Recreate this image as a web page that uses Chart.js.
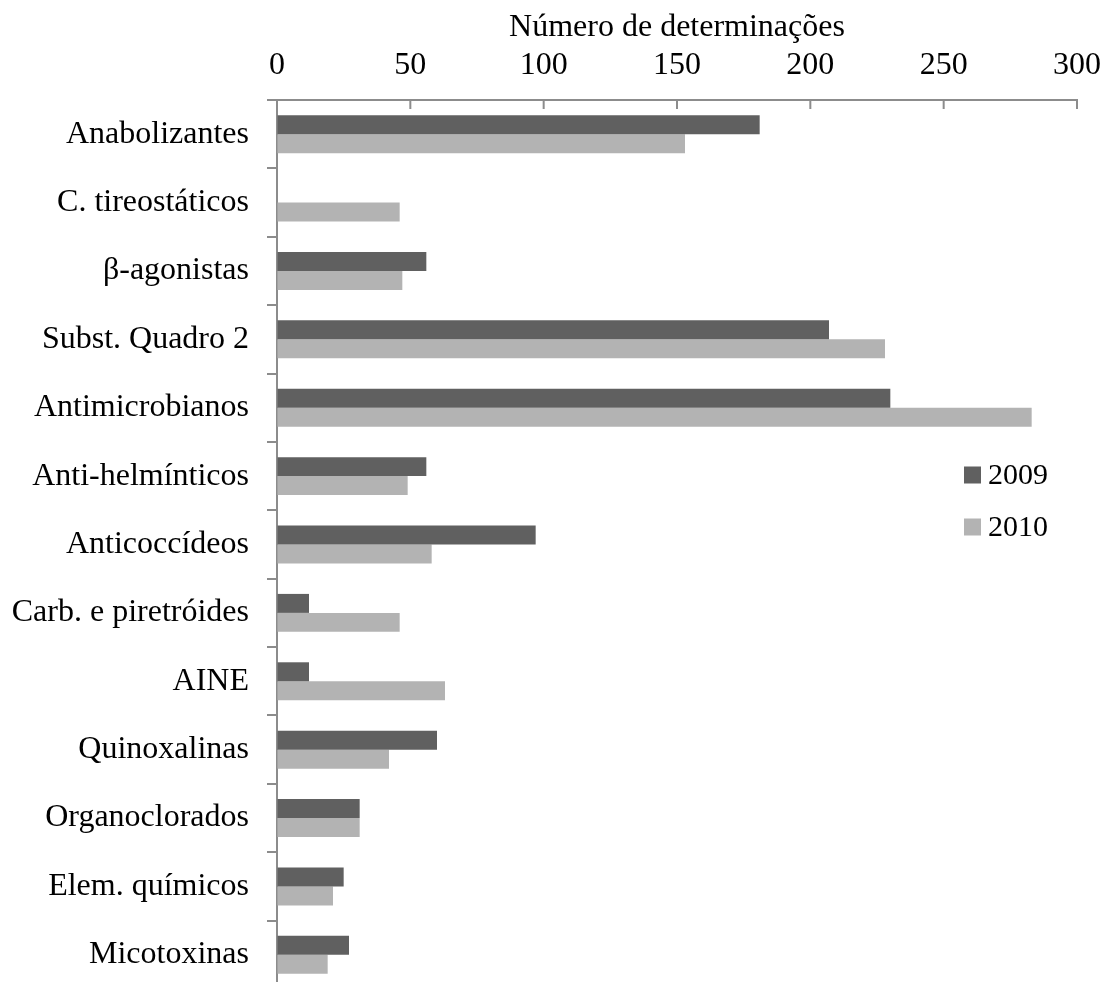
<!DOCTYPE html>
<html>
<head>
<meta charset="utf-8">
<script src="https://cdn.jsdelivr.net/npm/chart.js@4/dist/chart.umd.min.js"></script>
<style>
  html, body { margin: 0; padding: 0; background: #fff; overflow: hidden; }
  #wrap { position: relative; width: 1105px; height: 1000px; }
</style>
</head>
<body>
<div id="wrap"><canvas id="chart-1"></canvas></div>
<script>
var categorias = [
  "Anabolizantes", "C. tireostáticos", "β-agonistas", "Subst. Quadro 2",
  "Antimicrobianos", "Anti-helmínticos", "Anticoccídeos", "Carb. e piretróides",
  "AINE", "Quinoxalinas", "Organoclorados", "Elem. químicos", "Micotoxinas"
];
var dados_2009 = [181, 0, 56, 207, 230, 56, 97, 12, 12, 60, 31, 25, 27];
var dados_2010 = [153, 46, 47, 228, 283, 49, 58, 46, 63, 42, 31, 21, 19];
var anos = ["2009", "2010"];
var ticks_x = [0, 50, 100, 150, 200, 250, 300];

var fonte = "'Liberation Serif', 'Times New Roman', serif";
var cinza_eixo = "#8c8c8c";

// pequenos tracos do eixo x para dentro do grafico
var ticksDentro = {
  id: "ticksDentro",
  afterDatasetsDraw: function (chart) {
    var ctx = chart.ctx;
    var x = chart.scales.x;
    var top = chart.chartArea.top;
    ctx.save();
    ctx.strokeStyle = cinza_eixo;
    ctx.lineWidth = 2;
    for (let i = 1; i < ticks_x.length; i++) {
      var px = x.getPixelForValue(ticks_x[i]);
      ctx.beginPath();
      ctx.moveTo(px, top);
      ctx.lineTo(px, top + 9);
      ctx.stroke();
    }
    ctx.restore();
  }
};

var legenda = {
  id: "legenda",
  afterDraw: function (chart) {
    var ctx = chart.ctx;
    ctx.save();
    ctx.font = "30px " + fonte;
    ctx.textBaseline = "middle";
    ctx.textAlign = "left";
    chart.data.datasets.forEach(function (ds, i) {
      var y = 475 + i * 52;
      ctx.fillStyle = ds.backgroundColor;
      ctx.fillRect(964, y - 8.5, 17, 17);
      ctx.fillStyle = "#000";
      ctx.fillText(ds.label, 988, y + 1);
    });
    ctx.restore();
  }
};

var ctx = document.getElementById("chart-1").getContext("2d");
var myChart = new Chart(ctx, {
  type: "bar",
  data: {
    labels: categorias,
    datasets: [
      {
        label: anos[0],
        data: dados_2009,
        backgroundColor: "#606060",
        borderWidth: 0,
        categoryPercentage: 0.555,
        barPercentage: 1.0,
      },
      {
        label: anos[1],
        data: dados_2010,
        backgroundColor: "#b3b3b3",
        borderWidth: 0,
        categoryPercentage: 0.555,
        barPercentage: 1.0,
      },
    ],
  },
  options: {
    indexAxis: "y",
    responsive: true,
    maintainAspectRatio: false,
    animation: false,
    layout: {
      padding: { top: 0, right: 28, bottom: 11, left: 0 },
    },
    plugins: {
      legend: { display: false },
      tooltip: { enabled: false },
    },
    scales: {
      x: {
        position: "top",
        min: 0,
        max: 300,
        afterBuildTicks: function (scale) {
          scale.ticks = ticks_x.map(function (v) { return { value: v }; });
        },
        afterFit: function (scale) {
          scale.height = 100;
          scale.paddingLeft = 0;
          scale.paddingRight = 0;
        },
        grid: { display: true, drawOnChartArea: false, drawTicks: false },
        border: { display: true, color: cinza_eixo, width: 2 },
        ticks: {
          padding: 15,
          color: "#000",
          font: { family: fonte, size: 32 },
          maxRotation: 0,
        },
        title: {
          display: true,
          text: "Número de determinações",
          color: "#000",
          font: { family: fonte, size: 32 },
          padding: { top: 8, bottom: 0 },
        },
      },
      y: {
        afterFit: function (scale) {
          scale.width = 277;
          scale.paddingTop = 0;
          scale.paddingBottom = 0;
        },
        grid: {
          display: true,
          drawOnChartArea: false,
          drawTicks: true,
          tickLength: 10,
          color: cinza_eixo,
          lineWidth: 2,
        },
        border: { display: true, color: cinza_eixo, width: 2 },
        ticks: {
          padding: 18,
          color: "#000",
          font: { family: fonte, size: 32 },
        },
      },
    },
  },
  plugins: [ticksDentro, legenda],
});
</script>
</body>
</html>
